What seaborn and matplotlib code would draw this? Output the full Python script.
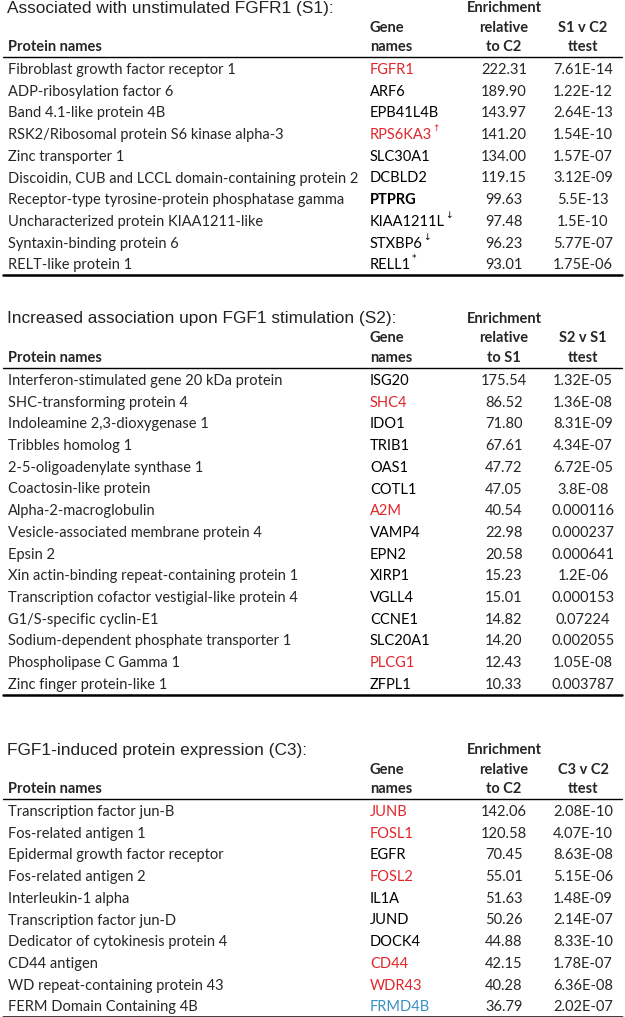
import seaborn as sns
import matplotlib.pyplot as plt

sns.set_theme(style='white')
plt.rcParams['font.family'] = ['Lato', 'DejaVu Sans']

# Section 1: associated with unstimulated FGFR1 (S1)
s1_title = 'Associated with unstimulated FGFR1 (S1):'
s1_proteins = ['Fibroblast growth factor receptor 1', 'ADP-ribosylation factor 6',
               'Band 4.1-like protein 4B', 'RSK2/Ribosomal protein S6 kinase alpha-3',
               'Zinc transporter 1', 'Discoidin, CUB and LCCL domain-containing protein 2',
               'Receptor-type tyrosine-protein phosphatase gamma',
               'Uncharacterized protein KIAA1211-like', 'Syntaxin-binding protein 6',
               'RELT-like protein 1']
s1_genes = ['FGFR1', 'ARF6', 'EPB41L4B', 'RPS6KA3', 'SLC30A1', 'DCBLD2', 'PTPRG',
            'KIAA1211L', 'STXBP6', 'RELL1']
s1_enrich = [222.31, 189.90, 143.97, 141.20, 134.00, 119.15, 99.63, 97.48, 96.23, 93.01]
s1_ttest = ['7.61E-14', '1.22E-12', '2.64E-13', '1.54E-10', '1.57E-07', '3.12E-09',
            '5.5E-13', '1.5E-10', '5.77E-07', '1.75E-06']

# Section 2: increased association upon FGF1 stimulation (S2)
s2_title = 'Increased association upon FGF1 stimulation (S2):'
s2_proteins = ['Interferon-stimulated gene 20 kDa protein', 'SHC-transforming protein 4',
               'Indoleamine 2,3-dioxygenase 1', 'Tribbles homolog 1',
               '2-5-oligoadenylate synthase 1', 'Coactosin-like protein',
               'Alpha-2-macroglobulin', 'Vesicle-associated membrane protein 4', 'Epsin 2',
               'Xin actin-binding repeat-containing protein 1',
               'Transcription cofactor vestigial-like protein 4', 'G1/S-specific cyclin-E1',
               'Sodium-dependent phosphate transporter 1', 'Phospholipase C Gamma 1',
               'Zinc finger protein-like 1']
s2_genes = ['ISG20', 'SHC4', 'IDO1', 'TRIB1', 'OAS1', 'COTL1', 'A2M', 'VAMP4', 'EPN2',
            'XIRP1', 'VGLL4', 'CCNE1', 'SLC20A1', 'PLCG1', 'ZFPL1']
s2_enrich = [175.54, 86.52, 71.80, 67.61, 47.72, 47.05, 40.54, 22.98, 20.58, 15.23,
             15.01, 14.82, 14.20, 12.43, 10.33]
s2_ttest = ['1.32E-05', '1.36E-08', '8.31E-09', '4.34E-07', '6.72E-05', '3.8E-08',
            '0.000116', '0.000237', '0.000641', '1.2E-06', '0.000153', '0.07224',
            '0.002055', '1.05E-08', '0.003787']

# Section 3: FGF1-induced protein expression (C3)
s3_title = 'FGF1-induced protein expression (C3):'
s3_proteins = ['Transcription factor jun-B', 'Fos-related antigen 1',
               'Epidermal growth factor receptor', 'Fos-related antigen 2',
               'Interleukin-1 alpha', 'Transcription factor jun-D',
               'Dedicator of cytokinesis protein 4', 'CD44 antigen',
               'WD repeat-containing protein 43', 'FERM Domain Containing 4B']
s3_genes = ['JUNB', 'FOSL1', 'EGFR', 'FOSL2', 'IL1A', 'JUND', 'DOCK4', 'CD44', 'WDR43',
            'FRMD4B']
s3_enrich = [142.06, 120.58, 70.45, 55.01, 51.63, 50.26, 44.88, 42.15, 40.28, 36.79]
s3_ttest = ['2.08E-10', '4.07E-10', '8.63E-08', '5.15E-06', '1.48E-09', '2.14E-07',
            '8.33E-10', '1.78E-07', '6.36E-08', '2.02E-07']

# gene highlighting
red_genes = ['FGFR1', 'RPS6KA3', 'SHC4', 'A2M', 'PLCG1', 'JUNB', 'FOSL1', 'FOSL2',
             'CD44', 'WDR43']
blue_genes = ['FRMD4B']
bold_genes = ['PTPRG']
gene_marks = {'RPS6KA3': '\u2191', 'KIAA1211L': '\u2193', 'STXBP6': '\u2193',
              'RELL1': '*'}

sections = [
    (s1_title, ['Enrichment', 'relative', 'to C2'], ['S1 v C2', 'ttest'],
     s1_proteins, s1_genes, s1_enrich, s1_ttest, 8),
    (s2_title, ['Enrichment', 'relative', 'to S1'], ['S2 v S1', 'ttest'],
     s2_proteins, s2_genes, s2_enrich, s2_ttest, 319),
    (s3_title, ['Enrichment', 'relative', 'to C2'], ['C3 v C2', 'ttest'],
     s3_proteins, s3_genes, s3_enrich, s3_ttest, 750),
]

fig = plt.figure(figsize=(6.25, 10.17), dpi=100)
ax = fig.add_axes([0, 0, 1, 1])
ax.set_xlim(0, 625)
ax.set_ylim(1017, 0)
ax.axis('off')

x_prot, x_gene, x_enr, x_tt = 8, 370, 504, 583
fs = 10.5
row_h = 21.7
red, blue = '#e0262b', '#3a8fc4'

for title, enr_head, tt_head, prots, genes, enr, tt, top in sections:
    ax.text(x_prot - 1, top, title, family='Liberation Sans', fontsize=12.4,
            color='#222222', va='center', ha='left')
    for k, h in enumerate(enr_head):
        ax.text(x_enr, top + k * 19.5, h, fontsize=fs, fontweight='bold',
                va='center', ha='center')
    ax.text(x_gene, top + 19.5, 'Gene', fontsize=fs, fontweight='bold', va='center')
    ax.text(x_gene, top + 39, 'names', fontsize=fs, fontweight='bold', va='center')
    ax.text(x_prot, top + 39, 'Protein names', fontsize=fs, fontweight='bold',
            va='center')
    ax.text(x_tt, top + 19.5, tt_head[0], fontsize=fs, fontweight='bold',
            va='center', ha='center')
    ax.text(x_tt, top + 39, tt_head[1], fontsize=fs, fontweight='bold',
            va='center', ha='center')
    ax.plot([3, 622], [top + 49, top + 49], color='black', lw=1.0)

    first = top + 62
    for i, (p, g, e, t) in enumerate(zip(prots, genes, enr, tt)):
        y = first + i * row_h
        ax.text(x_prot, y, p, fontsize=fs, va='center', ha='left')
        col = red if g in red_genes else (blue if g in blue_genes else 'black')
        wt = 'bold' if g in bold_genes else 'normal'
        gt = ax.text(x_gene, y, g, fontsize=fs, va='center', ha='left', color=col,
                     fontweight=wt)
        if g in gene_marks:
            ax.annotate(gene_marks[g], xy=(1.0, 0.95), xycoords=gt, xytext=(0.3, 0),
                        textcoords='offset points', fontsize=6.5, color=col,
                        va='center', ha='left', family=['DejaVu Sans'])
        ax.text(x_enr, y, f'{e:.2f}', fontsize=fs, va='center', ha='center')
        ax.text(x_tt, y, t, fontsize=fs, va='center', ha='center')
    last = first + (len(prots) - 1) * row_h
    ax.plot([3, 622], [last + 10, last + 10], color='black', lw=1.8)

fig.savefig('out.png', dpi=100)
